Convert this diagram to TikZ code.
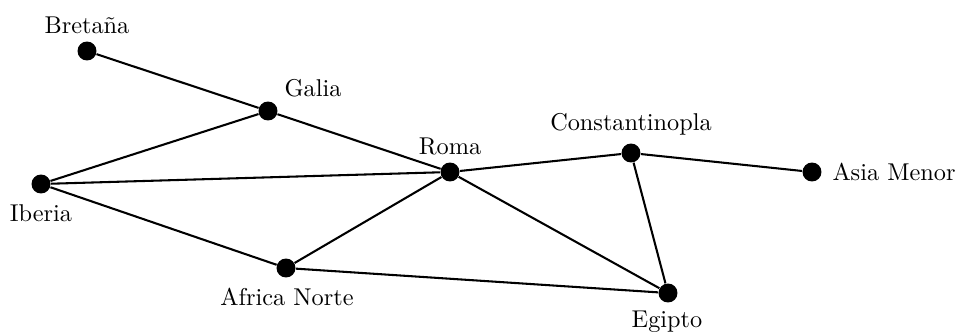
\documentclass[tikz,border=0pt]{standalone}
\begin{document}
\begin{tikzpicture}[x=0.4115pt,y=-0.4115pt,
  dot/.style={circle,fill=black,draw=none,minimum size=7.8pt,inner sep=0pt},
  lbl/.style={inner sep=0pt,font=\fontsize{10}{12}\selectfont},
  edge/.style={line width=0.85pt}]
\useasboundingbox (0,0) rectangle (955,334);
\node[dot] (bre) at (87,51) {};
\node[dot] (gal) at (268,111) {};
\node[dot] (rom) at (450,172) {};
\node[dot] (con) at (631,153) {};
\node[dot] (asi) at (812,172) {};
\node[dot] (ibe) at (41,184) {};
\node[dot] (afr) at (286,268) {};
\node[dot] (egi) at (668,293) {};
\node[lbl] (breL) at (87,25) {Bretaña};
\node[lbl] (galL) at (313,88) {Galia};
\node[lbl] (romL) at (450,146) {Roma};
\node[lbl] (conL) at (631,124) {Constantinopla};
\node[lbl,anchor=west] (asiL) at (832,172) {Asia Menor};
\node[lbl] (ibeL) at (41,213) {Iberia};
\node[lbl] (afrL) at (287,297) {Africa Norte};
\node[lbl] (egiL) at (667,322) {Egipto};
\draw[edge] (bre) -- (gal);
\draw[edge] (gal) -- (rom);
\draw[edge] (ibe) -- (gal);
\draw[edge] (ibe) -- (rom);
\draw[edge] (ibe) -- (afr);
\draw[edge] (afr) -- (rom);
\draw[edge] (afr) -- (egi);
\draw[edge] (rom) -- (egi);
\draw[edge] (rom) -- (con);
\draw[edge] (con) -- (asi);
\draw[edge] (con) -- (egi);
\end{tikzpicture}
\end{document}
